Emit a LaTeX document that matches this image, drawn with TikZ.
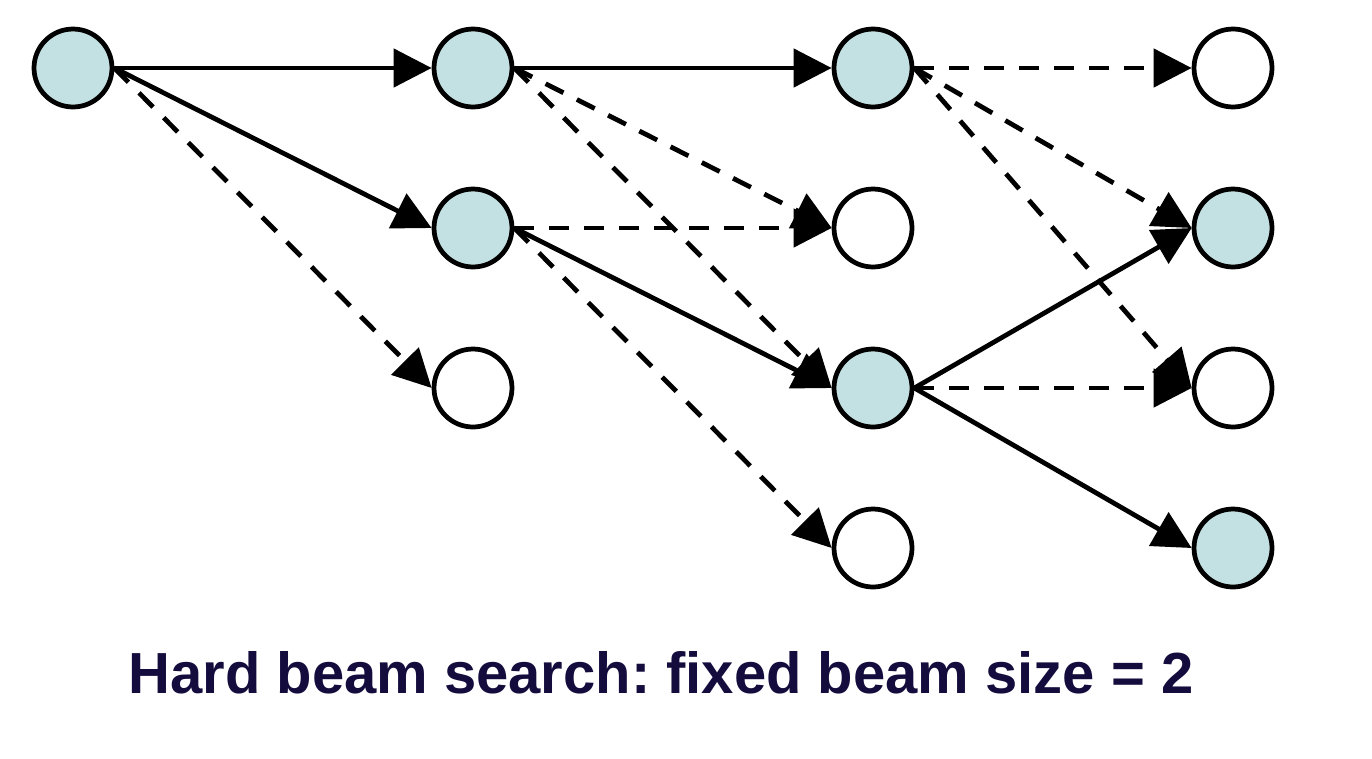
\documentclass[tikz,border=0pt]{standalone}
\usepackage{fontspec}
\setmainfont{Liberation Sans}
\usepackage{xcolor}
\usepackage{tikz}
\usetikzlibrary{arrows.meta}
\definecolor{bmfill}{HTML}{C3E0E2}
\definecolor{bmnavy}{HTML}{140C3C}
\frenchspacing

\begin{document}
\begin{tikzpicture}[
  x=0.02cm, y=-0.02cm,
  state/.style={circle, draw=black, line width=2.7pt, minimum size=1.56cm,
    inner sep=0pt, fill=white},
  kept/.style={state, fill=bmfill},
  hop/.style={line width=2.7pt, -{Triangle[length=0.76cm, width=0.76cm]}},
  pruned/.style={hop, dash pattern=on 0.4cm off 0.3cm},
  ]
  \useasboundingbox (0,0) rectangle (1372,758);

  % beam steps, left to right
  \node[kept] (a1) at (73,68) {};

  \node[kept] (b1) at (473,68) {};
  \node[kept] (b2) at (473,228) {};
  \node[state] (b3) at (473,388) {};

  \node[kept] (c1) at (873,68) {};
  \node[state] (c2) at (873,228) {};
  \node[kept] (c3) at (873,388) {};
  \node[state] (c4) at (873,548) {};

  \node[state] (d1) at (1233,68) {};
  \node[kept] (d2) at (1233,228) {};
  \node[state] (d3) at (1233,388) {};
  \node[kept] (d4) at (1233,548) {};

  \draw[hop] (a1.east) -- (b1.west);
  \draw[hop] (a1.east) -- (b2.west);
  \draw[pruned] (a1.east) -- (b3.west);

  \draw[hop] (b1.east) -- (c1.west);
  \draw[pruned] (b1.east) -- (c2.west);
  \draw[pruned] (b1.east) -- (c3.west);
  \draw[pruned] (b2.east) -- (c2.west);
  \draw[hop] (b2.east) -- (c3.west);
  \draw[pruned] (b2.east) -- (c4.west);

  \draw[pruned] (c1.east) -- (d1.west);
  \draw[pruned] (c1.east) -- (d2.west);
  \draw[pruned] (c1.east) -- (d3.west);
  \draw[hop] (c3.east) -- (d2.west);
  \draw[pruned] (c3.east) -- (d3.west);
  \draw[hop] (c3.east) -- (d4.west);

  \node[anchor=base, font=\fontsize{33pt}{40pt}\selectfont\bfseries, text=bmnavy]
    (cap) at (661,693) {Hard beam search: fixed beam size = 2};
\end{tikzpicture}
\end{document}
